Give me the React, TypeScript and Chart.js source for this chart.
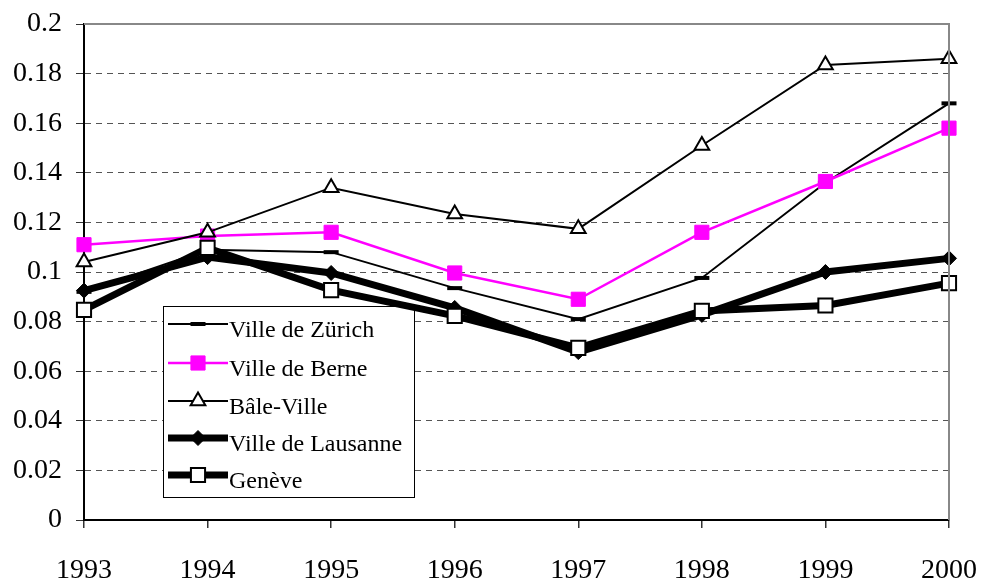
import React, { useEffect, useRef } from 'react';
import { Chart, registerables } from 'chart.js';

Chart.register(...registerables);

const years = ['1993', '1994', '1995', '1996', '1997', '1998', '1999', '2000'];
const zurich = [0.092, 0.109, 0.108, 0.0935, 0.081, 0.0976, 0.136, 0.168];
const berne = [0.111, 0.1145, 0.116, 0.0996, 0.089, 0.116, 0.1365, 0.158];
const bale = [0.104, 0.116, 0.134, 0.1234, 0.1174, 0.151, 0.1835, 0.186];
const lausanne = [0.0925, 0.106, 0.0996, 0.0855, 0.0677, 0.0827, 0.1, 0.1055];
const geneve = [0.0847, 0.1097, 0.0927, 0.0823, 0.0694, 0.0843, 0.0865, 0.0955];
const seriesNames = ['Ville de Zürich', 'Ville de Berne', 'Bâle-Ville', 'Ville de Lausanne', 'Genève'];

const FONT = '"Liberation Serif", "Times New Roman", serif';

function drawMarker(ctx: CanvasRenderingContext2D, ds: any, x: number, y: number) {
  const r = ds.pointRadius;
  ctx.save();
  ctx.lineWidth = ds.pointBorderWidth;
  ctx.strokeStyle = ds.pointBorderColor;
  ctx.fillStyle = ds.pointBackgroundColor;
  ctx.beginPath();
  switch (ds.pointStyle) {
    case 'line':
      ctx.moveTo(x - r, y);
      ctx.lineTo(x + r, y);
      ctx.stroke();
      ctx.restore();
      return;
    case 'rect': {
      const s = Math.SQRT1_2 * r;
      ctx.rect(x - s, y - s, 2 * s, 2 * s);
      break;
    }
    case 'rectRot':
      ctx.moveTo(x - r, y);
      ctx.lineTo(x, y - r);
      ctx.lineTo(x + r, y);
      ctx.lineTo(x, y + r);
      ctx.closePath();
      break;
    case 'triangle':
      ctx.moveTo(x, y - r);
      ctx.lineTo(x + Math.sin((2 * Math.PI) / 3) * r, y + r / 2);
      ctx.lineTo(x - Math.sin((2 * Math.PI) / 3) * r, y + r / 2);
      ctx.closePath();
      break;
  }
  ctx.fill();
  ctx.stroke();
  ctx.restore();
}

const legendPlugin = {
  id: 'boxLegend',
  beforeDatasetsDraw(chart: any) {
    const ctx: CanvasRenderingContext2D = chart.ctx;
    const bx = 163, by = 306, bw = 251, bh = 191;
    ctx.save();
    ctx.fillStyle = '#fff';
    ctx.fillRect(bx, by, bw, bh);
    ctx.strokeStyle = '#000';
    ctx.lineWidth = 1;
    ctx.strokeRect(bx + 0.5, by + 0.5, bw, bh);
    const rows = [324, 363, 401, 438, 475];
    chart.data.datasets.forEach((ds: any, i: number) => {
      const y = rows[i];
      ctx.save();
      ctx.strokeStyle = ds.borderColor;
      ctx.lineWidth = ds.borderWidth;
      ctx.beginPath();
      ctx.moveTo(168, y);
      ctx.lineTo(228, y);
      ctx.stroke();
      ctx.restore();
      drawMarker(ctx, ds, 198, y);
      ctx.fillStyle = '#000';
      ctx.font = `24px ${FONT}`;
      ctx.textBaseline = 'middle';
      ctx.textAlign = 'left';
      ctx.fillText(seriesNames[i], 229, y + 7);
    });
    ctx.restore();
  },
  afterDraw(chart: any) {
    const { ctx, chartArea } = chart;
    ctx.save();
    ctx.strokeStyle = '#888';
    ctx.lineWidth = 2;
    ctx.beginPath();
    ctx.moveTo(chartArea.left, chartArea.top);
    ctx.lineTo(chartArea.right, chartArea.top);
    ctx.lineTo(chartArea.right, chartArea.bottom);
    ctx.stroke();
    ctx.restore();
  },
};

function zeroPad(s: any) {
  s.paddingLeft = 0;
  s.paddingRight = 0;
  s.paddingTop = 0;
  s.paddingBottom = 0;
}

export default function App() {
  const ref = useRef<HTMLCanvasElement>(null);
  useEffect(() => {
    document.body.style.margin = '0';
    const chart = new Chart(ref.current!, {
      type: 'line',
      data: {
        labels: years,
        datasets: [
          {
            label: seriesNames[0], data: zurich, borderColor: '#000', borderWidth: 2,
            pointStyle: 'line', pointRadius: 7.5, pointBorderWidth: 4,
            pointBorderColor: '#000', pointBackgroundColor: '#000', order: 5, clip: false,
          },
          {
            label: seriesNames[1], data: berne, borderColor: '#FF00FF', borderWidth: 2.5,
            pointStyle: 'rect', pointRadius: 10, pointBorderWidth: 1,
            pointBorderColor: '#FF00FF', pointBackgroundColor: '#FF00FF', order: 4, clip: false,
          },
          {
            label: seriesNames[2], data: bale, borderColor: '#000', borderWidth: 2,
            pointStyle: 'triangle', pointRadius: 8.5, pointBorderWidth: 2,
            pointBorderColor: '#000', pointBackgroundColor: '#fff', order: 3, clip: false,
          },
          {
            label: seriesNames[3], data: lausanne, borderColor: '#000', borderWidth: 7,
            pointStyle: 'rectRot', pointRadius: 7.5, pointBorderWidth: 1,
            pointBorderColor: '#000', pointBackgroundColor: '#000', order: 2, clip: false,
          },
          {
            label: seriesNames[4], data: geneve, borderColor: '#000', borderWidth: 7,
            pointStyle: 'rect', pointRadius: 10, pointBorderWidth: 2,
            pointBorderColor: '#000', pointBackgroundColor: '#fff', order: 1, clip: false,
          },
        ] as any,
      },
      options: {
        animation: false,
        responsive: true,
        maintainAspectRatio: false,
        layout: { padding: { top: 24, right: 33, left: 0, bottom: 0 } },
        plugins: { legend: { display: false }, tooltip: { enabled: false } },
        elements: { line: { tension: 0 } },
        scales: {
          x: {
            offset: false,
            grid: { drawOnChartArea: false, drawTicks: true, tickLength: 8, tickColor: '#333', lineWidth: 1.5 },
            border: { color: '#000', width: 2 },
            ticks: {
              color: '#000', font: { family: FONT, size: 28 }, padding: 26,
              maxRotation: 0, autoSkip: false,
            },
            afterFit: (s: any) => { s.height = 63; zeroPad(s); },
          },
          y: {
            min: 0,
            max: 0.2,
            ticks: {
              stepSize: 0.02,
              color: '#000',
              font: { family: FONT, size: 28 },
              padding: 14,
              callback: (v: any) => String(Number(Number(v).toFixed(2))),
            },
            grid: {
              color: (c: any) => (c.tick && (c.tick.value < 0.001 || c.tick.value > 0.199) ? 'rgba(0,0,0,0)' : '#555'),
              lineWidth: 1,
              tickLength: 8,
              tickColor: '#333',
              tickBorderDash: [],
            } as any,
            border: { color: '#000', width: 2, dash: [6, 5] },
            afterFit: (s: any) => { s.width = 84; zeroPad(s); },
          },
        },
      } as any,
      plugins: [legendPlugin],
    });
    return () => chart.destroy();
  }, []);
  return (
    <div style={{ position: 'relative', width: 982, height: 583 }}>
      <canvas ref={ref} />
    </div>
  );
}
